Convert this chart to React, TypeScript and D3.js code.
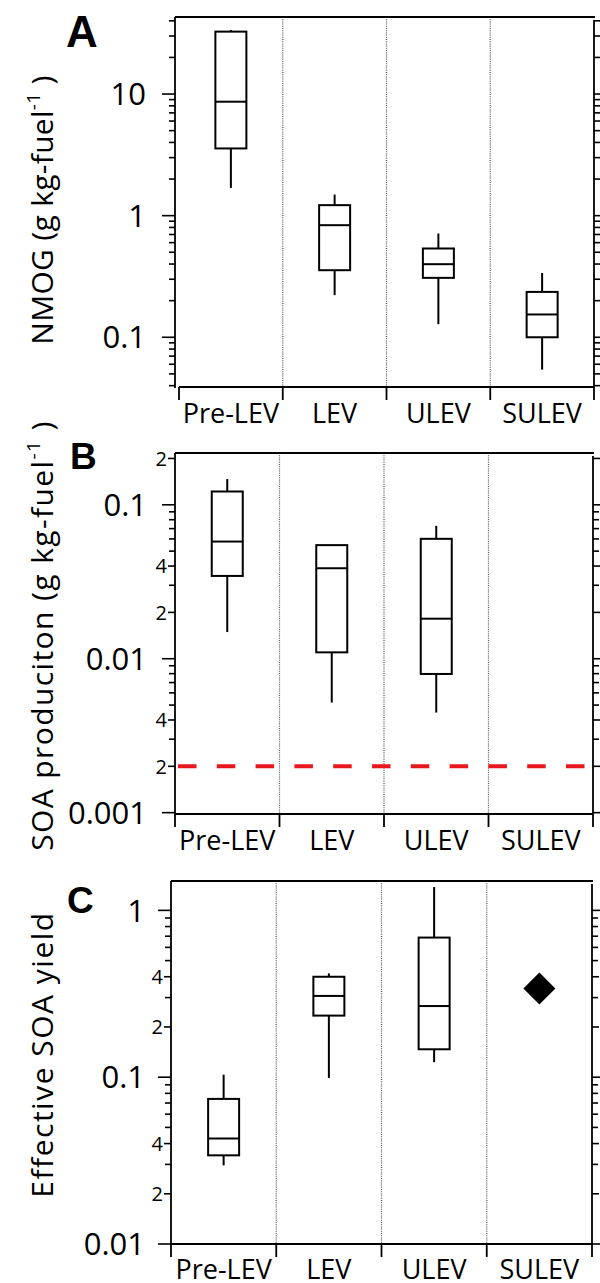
import React from "react";
import * as d3 from "d3";

const categories = ["Pre-LEV", "LEV", "ULEV", "SULEV"];

// NMOG emission factors (g kg-fuel^-1)
const nmogLow = [1.69, 0.222, 0.128, 0.0542];
const nmogQ1 = [3.57, 0.356, 0.308, 0.1];
const nmogMedian = [8.65, 0.835, 0.399, 0.154];
const nmogQ3 = [32.6, 1.22, 0.537, 0.236];
const nmogHigh = [33.6, 1.49, 0.713, 0.338];

// SOA production (g kg-fuel^-1); no SULEV boxes
const soaLow = [0.0149, 0.00519, 0.00447, null];
const soaQ1 = [0.0345, 0.011, 0.00796, null];
const soaMedian = [0.0577, 0.0387, 0.0182, null];
const soaQ3 = [0.122, 0.0547, 0.0601, null];
const soaHigh = [0.147, 0.0547, 0.073, null];
const soaDetectionLimit = 0.002;

// Effective SOA yield
const yieldLow = [0.0296, 0.0989, 0.123, null];
const yieldQ1 = [0.034, 0.234, 0.147, null];
const yieldMedian = [0.0429, 0.307, 0.267, null];
const yieldQ3 = [0.0741, 0.4, 0.687, null];
const yieldHigh = [0.1035, 0.419, 1.38, null];
const yieldSingle = [null, null, null, 0.34];

const FONT = "'Open Sans', sans-serif";

type Stats = { lo: number; q1: number; med: number; q3: number; hi: number } | null;

function boxes(lo: any[], q1: any[], med: any[], q3: any[], hi: any[]): Stats[] {
  return categories.map((_, i) =>
    lo[i] == null ? null : { lo: lo[i], q1: q1[i], med: med[i], q3: q3[i], hi: hi[i] }
  );
}

type PanelSpec = {
  letter: string;
  letterX: number;
  letterY: number;
  letterSize: number;
  title: string;
  superscript: boolean;
  titleShift: number;
  titleSpacing: number;
  left: number;
  right: number;
  top: number;
  bottom: number;
  xStart: number;
  labelDrop: number;
  domain: [number, number];
  minorLabels: boolean;
  majorLabelGap: number;
  stats: Stats[];
  points?: (number | null)[];
  limit?: number;
};

const panels: PanelSpec[] = [
  {
    letter: "A", letterX: 66, letterY: 47, letterSize: 44,
    title: "NMOG (g kg-fuel", superscript: true, titleShift: 8, titleSpacing: 0.3,
    left: 175, right: 594, top: 17, bottom: 387, xStart: 179, labelDrop: 36,
    domain: [0.039, 43], minorLabels: false, majorLabelGap: 29,
    stats: boxes(nmogLow, nmogQ1, nmogMedian, nmogQ3, nmogHigh),
  },
  {
    letter: "B", letterX: 70, letterY: 469, letterSize: 37,
    title: "SOA produciton (g kg-fuel", superscript: true, titleShift: 2, titleSpacing: 1.4,
    left: 175, right: 593, top: 453, bottom: 814, xStart: 175, labelDrop: 36,
    domain: [0.00098, 0.217], minorLabels: true, majorLabelGap: 28,
    stats: boxes(soaLow, soaQ1, soaMedian, soaQ3, soaHigh),
    limit: soaDetectionLimit,
  },
  {
    letter: "C", letterX: 67, letterY: 913, letterSize: 37,
    title: "Effective SOA yield", superscript: false, titleShift: -8, titleSpacing: 1.5,
    left: 171, right: 592, top: 881, bottom: 1244, xStart: 171, labelDrop: 35,
    domain: [0.01, 1.5], minorLabels: true, majorLabelGap: 26,
    stats: boxes(yieldLow, yieldQ1, yieldMedian, yieldQ3, yieldHigh),
    points: yieldSingle,
  },
];

const fmt = d3.format("~g");

function Panel({ p }: { p: PanelSpec }) {
  const x = d3.scaleBand<string>().domain(categories).range([p.xStart, p.right]).padding(0);
  const y = d3.scaleLog().domain(p.domain).range([p.bottom, p.top]);
  const ticks = y.ticks();
  const boxW = 31;
  const cx = (c: string) => (x(c) as number) + x.bandwidth() / 2;
  const boundaries = categories.map((c) => x(c) as number).concat([p.right]);
  const midY = (p.top + p.bottom) / 2 + p.titleShift;
  const diamond = d3.symbol().type(d3.symbolSquare).size(512)();

  return (
    <g>
      {/* gray dotted separators between categories */}
      {boundaries.slice(1, -1).map((bx, i) => (
        <line key={"sep" + i} x1={bx} x2={bx} y1={p.top} y2={p.bottom}
          stroke="#555" strokeWidth={1.2} strokeDasharray="1,1.2" />
      ))}

      {/* detection limit */}
      {p.limit != null && (
        <line x1={p.left + 3} x2={p.right - 3} y1={y(p.limit)} y2={y(p.limit)}
          stroke="#e8161d" strokeWidth={4} strokeDasharray="18.5,20.3" />
      )}

      {/* frame */}
      <line x1={p.left} x2={p.right + 1} y1={p.top} y2={p.top} stroke="#000" strokeWidth={1.8} />
      <line x1={p.left} x2={p.left} y1={p.top} y2={p.bottom + 1} stroke="#000" strokeWidth={1.8} />
      <line x1={p.right} x2={p.right} y1={p.top + 3} y2={p.bottom} stroke="#000" strokeWidth={1.8} />
      <line x1={p.xStart} x2={p.right} y1={p.bottom} y2={p.bottom} stroke="#000" strokeWidth={1.8} />

      {/* category boundary ticks and labels */}
      {boundaries.map((bx, i) => (
        <line key={"bt" + i} x1={bx} x2={bx} y1={p.bottom} y2={p.bottom + 13} stroke="#000" strokeWidth={1.8} />
      ))}
      {categories.map((c) => (
        <text key={"cl" + c} x={cx(c)} y={p.bottom + p.labelDrop} textAnchor="middle"
          fontFamily={FONT} fontSize={27} fill="#000">{c}</text>
      ))}

      {/* log ticks, left and right */}
      {ticks.map((v, i) => {
        const k = Math.round(v / Math.pow(10, Math.floor(Math.log10(v) + 1e-9)));
        const major = k === 1;
        const labeledMinor = p.minorLabels && (k === 2 || k === 4);
        const len = major ? 13 : labeledMinor ? 7 : 6;
        const ty = y(v);
        return (
          <g key={"t" + i}>
            <line x1={p.left - len} x2={p.left} y1={ty} y2={ty} stroke="#000" strokeWidth={1.6} />
            <line x1={p.right} x2={p.right + len} y1={ty} y2={ty} stroke="#000" strokeWidth={1.6} />
            {major && (
              <text x={p.left - p.majorLabelGap} y={ty} dy="0.36em" textAnchor="end"
                fontFamily={FONT} fontSize={31} fill="#000">{fmt(v)}</text>
            )}
            {labeledMinor && (
              <text x={p.left - 8} y={ty} dy="0.36em" textAnchor="end"
                fontFamily={FONT} fontSize={20} fill="#000">{k}</text>
            )}
          </g>
        );
      })}

      {/* box plots */}
      {p.stats.map((s, i) => {
        if (!s) return null;
        const c = cx(categories[i]);
        return (
          <g key={"box" + i} stroke="#000" strokeWidth={2} fill="none">
            <line x1={c} x2={c} y1={y(s.hi)} y2={y(s.q3)} />
            <line x1={c} x2={c} y1={y(s.q1)} y2={y(s.lo)} />
            <rect x={c - boxW / 2} y={y(s.q3)} width={boxW} height={y(s.q1) - y(s.q3)} fill="#fff" />
            <line x1={c - boxW / 2} x2={c + boxW / 2} y1={y(s.med)} y2={y(s.med)} />
          </g>
        );
      })}

      {/* single observations */}
      {p.points && p.points.map((v, i) =>
        v == null ? null : (
          <path key={"pt" + i} d={diamond as string} fill="#000"
            transform={`translate(${cx(categories[i])},${y(v)}) rotate(45)`} />
        )
      )}

      {/* panel letter */}
      <text x={p.letterX} y={p.letterY} fontFamily="'Liberation Sans', Arial, sans-serif"
        fontWeight="bold" fontSize={p.letterSize} fill="#000">{p.letter}</text>

      {/* axis title */}
      <text transform={`translate(53,${midY}) rotate(-90)`} textAnchor="middle"
        fontFamily={FONT} fontSize={30} letterSpacing={p.titleSpacing} fill="#000">
        {p.title}
        {p.superscript && (
          <>
            <tspan dy={-13} fontSize={19}>-1</tspan>
            <tspan dy={13}> )</tspan>
          </>
        )}
      </text>
    </g>
  );
}

export default function App() {
  return (
    <svg width={600} height={1283} style={{ position: "absolute", left: 0, top: 0, background: "#fff" }}>
      <rect width={600} height={1283} fill="#fff" />
      {panels.map((p) => (
        <Panel key={p.letter} p={p} />
      ))}
    </svg>
  );
}
